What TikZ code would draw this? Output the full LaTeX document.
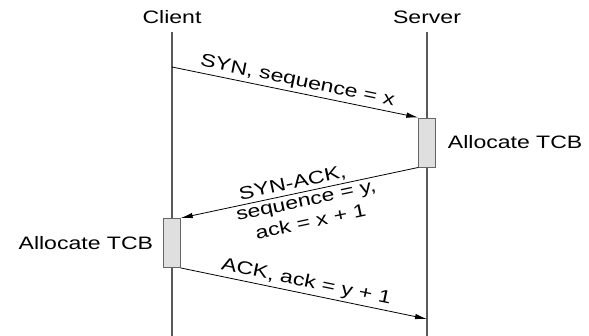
\documentclass[tikz,border=0pt]{standalone}
\usepackage{fontspec}
\setmainfont{Liberation Sans}[FakeStretch=1.28]
\usetikzlibrary{arrows.meta, positioning}

\begin{document}
\begin{tikzpicture}[
    x=1pt, y=-1pt,
    host_style/.style={font=\fontsize{18}{22}\selectfont, inner sep=0pt},
    lifeline_style/.style={black!65, line width=1.1pt},
    tcb_style/.style={draw=black!60, fill=gray!25, line width=0.9pt, minimum width=16.5pt, minimum height=49pt, inner sep=0pt},
    msg_style/.style={-{Latex[length=12pt, width=5.5pt]}, line width=0.8pt},
    label_style/.style={font=\fontsize{18}{22}\selectfont, sloped, inner sep=2.5pt}
]
    \useasboundingbox (0,0) rectangle (589,336);

    % Hosts and their time lines
    \node[host_style] (client) at (172,17) {Client};
    \node[host_style] (server) at (427,17) {Server};
    \coordinate (client_top) at (172,32);
    \coordinate (client_end) at (172,336);
    \coordinate (server_top) at (427,32);
    \coordinate (server_end) at (427,336);
    \draw[lifeline_style] (client_top) -- (client_end);
    \draw[lifeline_style] (server_top) -- (server_end);

    % TCB allocation
    \node[tcb_style] (server_tcb) at (427,142.5) {};
    \node[tcb_style] (client_tcb) at (172,243) {};
    \node[host_style, right=12pt of server_tcb] (server_alloc) {Allocate TCB};
    \node[host_style, left=10pt of client_tcb] (client_alloc) {Allocate TCB};

    % Three-way handshake
    \coordinate (syn_start) at (172,67);
    \coordinate (ack_end) at (427,319);
    \draw[msg_style] (syn_start) -- node[label_style, above] {SYN, sequence = x} (server_tcb.north west);
    \draw[msg_style] (server_tcb.south west) -- node[label_style, above, pos=0.52] {SYN-ACK,}
        node[label_style, below, pos=0.48, inner ysep=4.5pt, align=center] {sequence = y,\\ack = x + 1} (client_tcb.north east);
    \draw[msg_style] (client_tcb.south east) -- node[label_style, above] {ACK, ack = y + 1} (ack_end);

\end{tikzpicture}
\end{document}
